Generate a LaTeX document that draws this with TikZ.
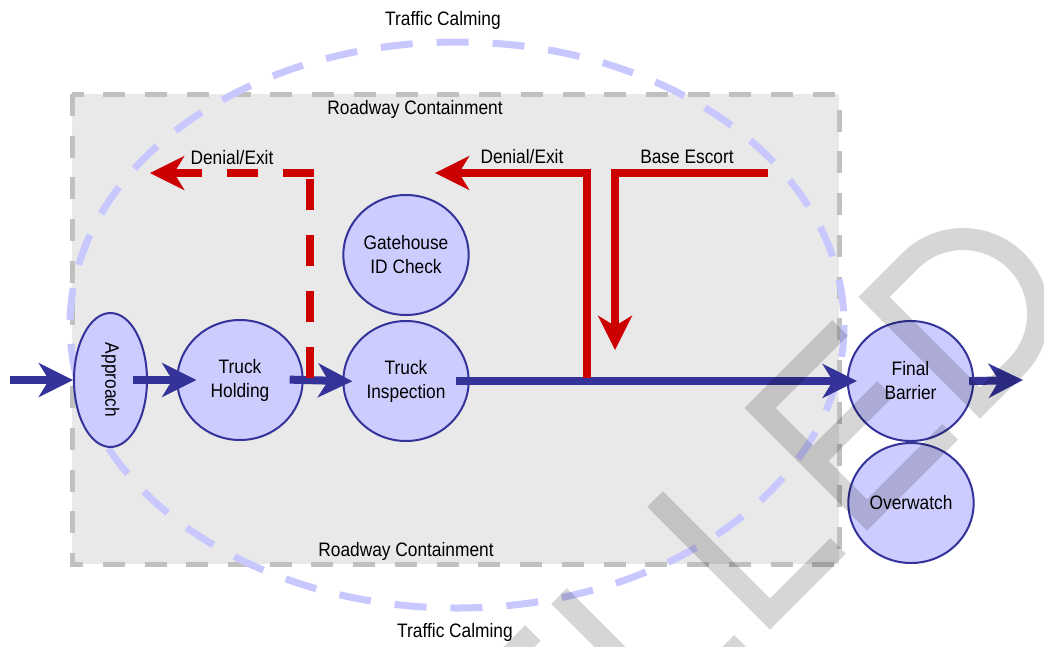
\documentclass[tikz,border=0pt]{standalone}
\usepackage{fontspec}
\setmainfont{Liberation Sans}[FakeStretch=0.89]
\usetikzlibrary{arrows.meta,shapes.geometric}
\definecolor{navy}{RGB}{51,51,153}
\definecolor{nodefill}{RGB}{204,204,255}
\definecolor{calm}{RGB}{200,200,255}
\definecolor{boxfill}{RGB}{233,233,233}
\definecolor{boxline}{RGB}{192,192,192}
\definecolor{deny}{RGB}{204,0,0}
\begin{document}
\begin{tikzpicture}[x=0.75pt,y=-0.75pt,
  font=\fontsize{14.6pt}{18pt}\selectfont,
  station/.style={ellipse, draw=navy, line width=1.5pt, fill=nodefill, inner sep=0pt,
    minimum width=94pt, minimum height=90pt, align=center},
  lbl/.style={inner sep=0pt, anchor=base},
  bigtip/.style={-{Stealth[length=26pt,width=26pt,inset=8pt,line width=0pt]}},
  flowline/.style={draw=navy, line width=6pt, bigtip},
  denyline/.style={draw=deny, line width=6pt, line join=miter},
  denydash/.style={denyline, dash pattern=on 23.25pt off 18.75pt},
  wmark/.style={line width=16.5pt, line join=miter, line cap=butt, draw=black, draw opacity=0.16}
]
\useasboundingbox (0,0) rectangle (1044,646);
\fill[white] (0,0) rectangle (1044,646);

% Roadway containment box
\path[fill=boxfill, draw=boxline, line width=3.75pt, dash pattern=on 16.5pt off 14.8pt]
  (72,94) rectangle (839,564);

% Traffic calming ellipse
\draw[calm, line width=5.25pt, dash pattern=on 24pt off 18pt]
  (457,325) ellipse [x radius=387, y radius=283];

% labels
\node[lbl] (tcTop) at (443,26) {Traffic Calming};
\node[lbl] (tcBot) at (455,637) {Traffic Calming};
\node[lbl] (rcTop) at (415,114) {Roadway Containment};
\node[lbl] (rcBot) at (406,556) {Roadway Containment};
\node[lbl] (den1) at (232,164) {Denial/Exit};
\node[lbl] (den2) at (522,163) {Denial/Exit};
\node[lbl] (esc) at (687,163) {Base Escort};

% stations
\node[station, rotate=-90, minimum width=100.5pt, minimum height=54.75pt] (approach) at (110.5,380) {Approach};
\node[station] (holding) at (240,380) {Truck\\Holding};
\node[station] (inspect) at (406,381) {Truck\\Inspection};
\node[station] (gate) at (406,255) {Gatehouse\\ID Check};
\node[station] (final) at (910.5,381) {Final\\Barrier};
\node[station] (watch) at (911,503) {Overwatch};

% main flow
\coordinate (entry) at (10,380);
\coordinate (exit) at (1023,380);
\draw[flowline] (entry) -- (approach.south);
\draw[flowline, shorten <=-11.25pt, shorten >=-15pt] (approach.north) -- (holding.west);
\draw[flowline, shorten <=-10.5pt, shorten >=-7.5pt] (holding.east) -- (inspect.west);
\draw[flowline, shorten <=-10.5pt, shorten >=-7.5pt] (inspect.east) -- (final.west);
\draw[flowline, shorten <=-3.75pt] (final.east) -- (exit);

% denial / exit (dashed)
\coordinate (d1a) at (310,378);
\coordinate (d1b) at (310,177);
\coordinate (d1c) at (314,173);
\coordinate (d1d) at (150,173);
\draw[denydash] (d1a) -- (d1b);
\draw[denydash, bigtip] (d1c) -- (d1d);

% denial / exit (solid)
\coordinate (d2a) at (587,378);
\coordinate (d2b) at (587,173);
\coordinate (d2c) at (435,173);
\draw[denyline, bigtip] (d2a) -- (d2b) -- (d2c);

% base escort
\coordinate (e1) at (768,173);
\coordinate (e2) at (615,173);
\coordinate (e3) at (615,350);
\draw[denyline, bigtip] (e1) -- (e2) -- (e3);

% watermark
\begin{scope}
\clip (0,0) rectangle (1044,646);
\draw[wmark] (533,633) -- (453,713) -- (560,820) -- (643,737) (506,766) -- (578,694);
\draw[wmark] (559,596) -- (674,711) -- (742,643);
\draw[wmark] (655,499) -- (770,614) -- (838,546);
\draw[wmark] (840,328) -- (760,408) -- (867,515) -- (950,432) (813,461) -- (885,389);
\draw[wmark] (980,403) -- (874,297) -- (910,261) arc[start angle=-135, end angle=45, radius=75] -- cycle;
\end{scope}
\end{tikzpicture}
\end{document}
